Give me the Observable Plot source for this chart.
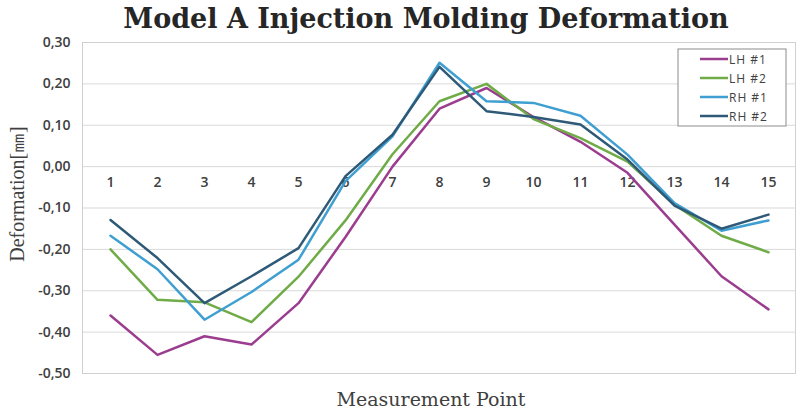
<!DOCTYPE html>
<html>
<head>
<meta charset="utf-8">
<script src="https://cdn.jsdelivr.net/npm/d3@7"></script>
<script src="https://cdn.jsdelivr.net/npm/@observablehq/plot@0.6"></script>
<style>
  html, body { margin: 0; padding: 0; background: #fff; }
  #chart svg { display: block; }
</style>
</head>
<body>
<div id="chart"></div>
<script>
const points = [1, 2, 3, 4, 5, 6, 7, 8, 9, 10, 11, 12, 13, 14, 15];
const seriesNames = ["LH #1", "LH #2", "RH #1", "RH #2"];
const lh1 = [-0.36, -0.455, -0.41, -0.43, -0.33, -0.17, 0.00, 0.14, 0.19, 0.12, 0.06, -0.015, -0.14, -0.265, -0.345];
const lh2 = [-0.20, -0.322, -0.328, -0.376, -0.266, -0.13, 0.03, 0.158, 0.20, 0.115, 0.069, 0.012, -0.092, -0.167, -0.207];
const rh1 = [-0.167, -0.248, -0.37, -0.303, -0.225, -0.035, 0.073, 0.251, 0.158, 0.154, 0.123, 0.029, -0.088, -0.155, -0.13];
const rh2 = [-0.129, -0.221, -0.33, -0.265, -0.197, -0.023, 0.077, 0.241, 0.134, 0.12, 0.102, 0.017, -0.094, -0.15, -0.116];
const colors = ["#9b3d8f", "#6fab47", "#3f9fd0", "#2e5a78"];
const yTicks = [0.3, 0.2, 0.1, 0.0, -0.1, -0.2, -0.3, -0.4, -0.5];

const allSeries = [lh1, lh2, rh1, rh2];
const data = [];
allSeries.forEach((vals, i) => vals.forEach((v, j) => data.push({series: seriesNames[i], point: points[j], value: v})));

const fmt = v => (v < 0 ? "-" : "") + Math.abs(v).toFixed(2).replace(".", ",");

const plot = Plot.plot({
  width: 800,
  height: 410,
  marginLeft: 82,
  marginRight: 5,
  marginTop: 42,
  marginBottom: 37,
  style: {background: "#fff"},
  x: {type: "point", domain: points, padding: 0.5, axis: null},
  y: {domain: [-0.5, 0.3], axis: null},
  color: {domain: seriesNames, range: colors},
  marks: [
    Plot.ruleY(yTicks, {stroke: "#d9d9d9", strokeWidth: 1}),
    Plot.frame({stroke: "#d0d0d0", strokeWidth: 1}),
    Plot.axisY(yTicks, {tickSize: 0, tickPadding: 12, tickFormat: fmt, fontSize: 14, fontWeight: 600, fill: "#404040", label: null, fontFamily: "Open Sans"}),
    Plot.text(points, {x: d => d, y: () => 0, dy: 16, text: d => String(d), fontSize: 14, fontWeight: 600, fill: "#404040", fontFamily: "Open Sans"}),
    Plot.line(data, {x: "point", y: "value", z: "series", stroke: "series", strokeWidth: 2.5, curve: "linear"})
  ]
});

document.getElementById("chart").appendChild(plot);

const svg = d3.select(plot);
// Title
svg.append("text")
  .attr("x", 426).attr("y", 28)
  .attr("text-anchor", "middle")
  .attr("font-family", "DejaVu Serif")
  .attr("font-weight", "bold")
  .attr("font-size", 27)
  .attr("fill", "#262626")
  .text("Model A Injection Molding Deformation");
// Y label
svg.append("text")
  .attr("transform", "translate(24,194) rotate(-90)")
  .attr("text-anchor", "middle")
  .attr("font-family", "Liberation Serif")
  .attr("font-size", 20)
  .attr("fill", "#404040")
  .text("Deformation[㎜]");
// X label
svg.append("text")
  .attr("x", 431).attr("y", 406)
  .attr("text-anchor", "middle")
  .attr("font-family", "DejaVu Serif")
  .attr("font-size", 19)
  .attr("fill", "#404040")
  .text("Measurement Point");
// Legend
const lg = svg.append("g").attr("transform", "translate(678,49)");
lg.append("rect").attr("width", 108).attr("height", 77).attr("fill", "#fff").attr("stroke", "#8c8c8c").attr("stroke-width", 1);
seriesNames.forEach((name, i) => {
  const yy = 10 + i * 19;
  lg.append("line").attr("x1", 22).attr("x2", 50).attr("y1", yy).attr("y2", yy).attr("stroke", colors[i]).attr("stroke-width", 2.5);
  lg.append("text").attr("x", 51).attr("y", yy + 4.5).attr("text-anchor", "start").attr("font-family", "Open Sans").attr("font-size", 12).attr("letter-spacing", 1).attr("fill", "#404040").text(name);
});
</script>
</body>
</html>
